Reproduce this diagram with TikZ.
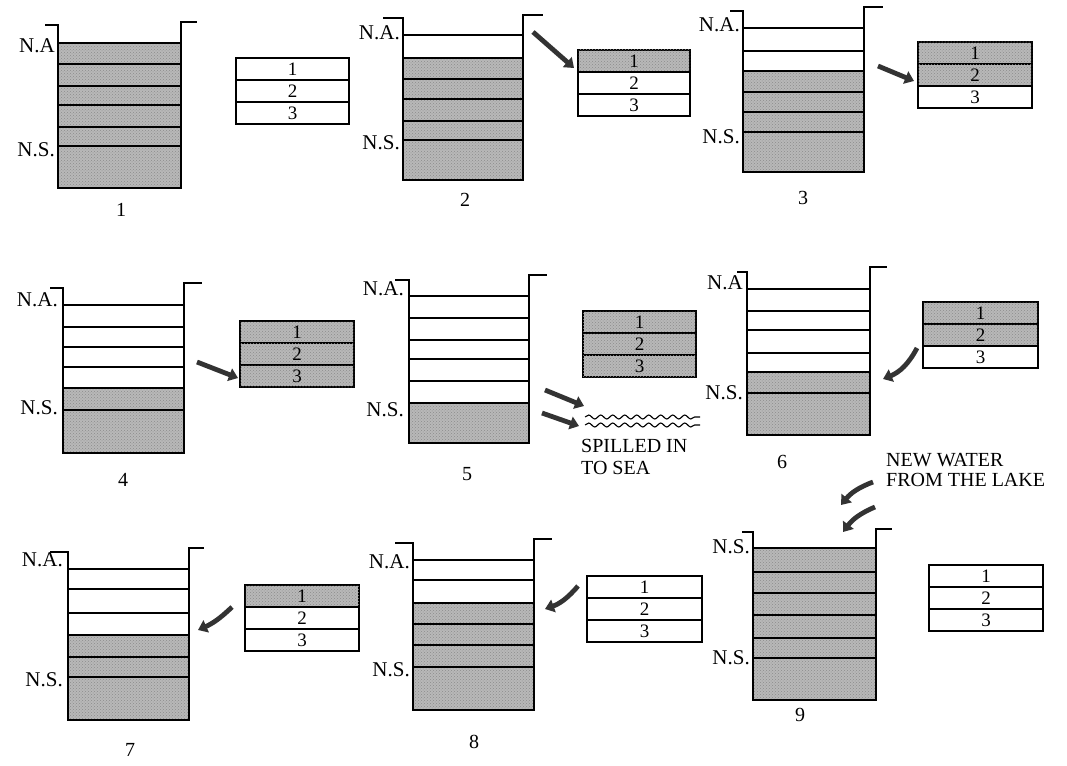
\documentclass[tikz,border=0pt]{standalone}
\usepackage{fontspec}
\setmainfont{Liberation Serif}
\usetikzlibrary{arrows.meta,decorations.pathmorphing,patterns}

\tikzset{
  wallline/.style={line width=1.9pt, line join=miter},
  layerline/.style={line width=1.4pt},
  wet/.style={fill=black!28, postaction={pattern=crosshatch dots, pattern color=black!45}},
  dry/.style={fill=white},
  cell/.style={draw, line width=1.4pt, anchor=north west, inner sep=0pt, outer sep=0pt,
    minimum height=22pt, font=\fontsize{19}{19}\selectfont},
  lbl/.style={anchor=east, inner sep=0pt, font=\fontsize{21}{21}\selectfont},
  num/.style={inner sep=0pt, font=\fontsize{20}{20}\selectfont},
  note/.style={anchor=west, inner sep=0pt, font=\fontsize{20}{20}\selectfont},
  fatarr/.style={line width=4.8pt, draw=black!80, -{Triangle[length=9pt,width=13pt]}},
  wave/.style={line width=1.1pt, decorate, decoration={snake, amplitude=2pt, segment length=12pt}},
}

% #1 xl, #2 xr, #3 tick-left x, #4 top-left y, #5 top-right y, #6 tick-right x, #7 bottom y, #8 shading top y
\newcommand{\drawtank}[8]{%
  \path[wet] (#1,#8) rectangle (#2,#7);
  \draw[wallline] (#3,#4) -- (#1,#4) -- (#1,#7) -- (#2,#7) -- (#2,#5) -- (#6,#5);
}
% #1 name, #2 x, #3 y, #4 width, #5-#7 fill styles
\newcommand{\layertable}[7]{%
  \node[cell, #5, minimum width=#4pt] (#1a) at (#2,#3) {1};
  \node[cell, #6, minimum width=#4pt, anchor=north] (#1b) at (#1a.south) {2};
  \node[cell, #7, minimum width=#4pt, anchor=north] (#1c) at (#1b.south) {3};
}

\begin{document}
\begin{tikzpicture}[x=1pt,y=-1pt]
\useasboundingbox (0,0) rectangle (1067,765);
\fill[white] (0,0) rectangle (1067,765);

% ---------- Panel 1
\drawtank{58}{181}{45}{25}{22}{197}{188}{43}
\foreach \yy in {43,64,86,105,127,146} \draw[layerline] (58,\yy) -- (181,\yy);
\node[lbl] (na1) at (55,46) {N.A};
\node[lbl] (ns1) at (55,150) {N.S.};
\layertable{t1}{236}{58}{113}{dry}{dry}{dry}
\node[num] (n1) at (121,210) {1};

% ---------- Panel 2
\drawtank{403}{523}{383}{18}{15}{543}{180}{58}
\foreach \yy in {35,58,79,99,121,140} \draw[layerline] (403,\yy) -- (523,\yy);
\node[lbl] (na2) at (400,33) {N.A.};
\node[lbl] (ns2) at (400,143) {N.S.};
\layertable{t2}{578}{50}{112}{wet}{dry}{dry}
\coordinate (a2s) at (533,32);
\coordinate (a2e) at (574,68);
\draw[fatarr] (a2s) -- (a2e);
\node[num] (n2) at (465,200) {2};

% ---------- Panel 3
\drawtank{743}{864}{730}{11}{7}{883}{172}{71}
\foreach \yy in {28,51,71,92,112,132} \draw[layerline] (743,\yy) -- (864,\yy);
\node[lbl] (na3) at (740,25) {N.A.};
\node[lbl] (ns3) at (740,137) {N.S.};
\layertable{t3}{918}{42}{114}{wet}{wet}{dry}
\coordinate (a3s) at (878,66);
\coordinate (a3e) at (914,81);
\draw[fatarr] (a3s) -- (a3e);
\node[num] (n3) at (803,198) {3};

% ---------- Panel 4
\drawtank{63}{184}{50}{288}{283}{202}{453}{388}
\foreach \yy in {305,327,347,367,388,410} \draw[layerline] (63,\yy) -- (184,\yy);
\node[lbl] (na4) at (58,300) {N.A.};
\node[lbl] (ns4) at (58,408) {N.S.};
\layertable{t4}{240}{321}{114}{wet}{wet}{wet}
\coordinate (a4s) at (197,362);
\coordinate (a4e) at (238,378);
\draw[fatarr] (a4s) -- (a4e);
\node[num] (n4) at (123,480) {4};

% ---------- Panel 5
\drawtank{409}{529}{395}{280}{275}{547}{443}{403}
\foreach \yy in {296,318,340,359,381,403} \draw[layerline] (409,\yy) -- (529,\yy);
\node[lbl] (na5) at (404,289) {N.A.};
\node[lbl] (ns5) at (404,410) {N.S.};
\layertable{t5}{583}{311}{113}{wet}{wet}{wet}
\coordinate (a5s) at (545,390);
\coordinate (a5e) at (584,406);
\draw[fatarr] (a5s) -- (a5e);
\coordinate (b5s) at (542,413);
\coordinate (b5e) at (579,426);
\draw[fatarr] (b5s) -- (b5e);
\coordinate (w1s) at (585,417);
\coordinate (w1e) at (700,417);
\coordinate (w2s) at (585,425);
\coordinate (w2e) at (700,425);
\draw[wave] (w1s) -- (w1e);
\draw[wave] (w2s) -- (w2e);
\node[note] (sp1) at (581,446) {SPILLED IN};
\node[note] (sp2) at (581,468) {TO SEA};
\node[num] (n5) at (467,474) {5};

% ---------- Panel 6
\drawtank{747}{870}{737}{272}{267}{887}{435}{372}
\foreach \yy in {289,311,330,353,372,393} \draw[layerline] (747,\yy) -- (870,\yy);
\node[lbl] (na6) at (743,283) {N.A};
\node[lbl] (ns6) at (743,393) {N.S.};
\layertable{t6}{923}{302}{115}{wet}{wet}{dry}
\coordinate (a6s) at (917,348);
\coordinate (a6e) at (883,379);
\draw[fatarr] (a6s) to[bend left=20] (a6e);
\node[num] (n6) at (782,462) {6};
\node[note] (nw1) at (886,460) {NEW WATER};
\node[note] (nw2) at (886,480) {FROM THE LAKE};

% ---------- Panel 7
\drawtank{68}{189}{50}{552}{548}{204}{720}{635}
\foreach \yy in {569,589,613,635,657,677} \draw[layerline] (68,\yy) -- (189,\yy);
\node[lbl] (na7) at (63,560) {N.A.};
\node[lbl] (ns7) at (63,680) {N.S.};
\layertable{t7}{245}{585}{114}{wet}{dry}{dry}
\coordinate (a7s) at (232,607);
\coordinate (a7e) at (198,630);
\draw[fatarr] (a7s) to[bend left=10] (a7e);
\node[num] (n7) at (130,750) {7};

% ---------- Panel 8
\drawtank{413}{534}{395}{543}{539}{552}{710}{603}
\foreach \yy in {560,580,603,624,645,667} \draw[layerline] (413,\yy) -- (534,\yy);
\node[lbl] (na8) at (410,562) {N.A.};
\node[lbl] (ns8) at (410,670) {N.S.};
\layertable{t8}{587}{576}{115}{dry}{dry}{dry}
\coordinate (a8s) at (578,586);
\coordinate (a8e) at (545,609);
\draw[fatarr] (a8s) to[bend left=15] (a8e);
\node[num] (n8) at (474,742) {8};

% ---------- Panel 9
\drawtank{753}{876}{742}{532}{529}{892}{700}{548}
\foreach \yy in {548,572,593,615,638,658} \draw[layerline] (753,\yy) -- (876,\yy);
\node[lbl] (nsa9) at (750,547) {N.S.};
\node[lbl] (ns9) at (750,658) {N.S.};
\layertable{t9}{929}{565}{114}{dry}{dry}{dry}
\coordinate (a9s) at (873,482);
\coordinate (a9e) at (841,505);
\draw[fatarr] (a9s) to[bend right=15] (a9e);
\coordinate (b9s) at (875,507);
\coordinate (b9e) at (843,532);
\draw[fatarr] (b9s) to[bend right=15] (b9e);
\node[num] (n9) at (800,715) {9};
\end{tikzpicture}
\end{document}
